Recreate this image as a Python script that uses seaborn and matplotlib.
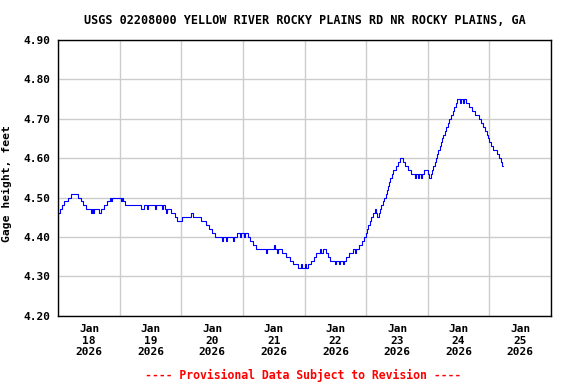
import pandas as pd
import matplotlib
matplotlib.use("Agg")
import matplotlib.pyplot as plt
import matplotlib.dates as mdates
import seaborn as sns

# Gage height readings (feet); each value holds until the next change time
start = "2026-01-18"
change_hours = [
    0.0, 0.5, 1.3, 2.4, 3.6, 4.9, 7.8, 8.8, 9.8, 10.8,
    12.7, 13.1, 13.5, 14.1, 15.9, 16.8, 17.8, 19.0, 20.1, 20.7,
    21.1, 24.4, 24.8, 25.2, 26.0, 32.2, 33.4, 34.6, 34.9, 37.7,
    38.1, 40.4, 40.8, 41.6, 42.0, 42.4, 43.9, 45.3, 46.4, 48.4,
    51.7, 52.3, 55.8, 57.5, 58.7, 59.9, 61.0, 63.8, 64.2, 65.3,
    65.7, 68.1, 68.4, 69.6, 70.8, 71.2, 72.3, 72.7, 73.9, 74.7,
    75.8, 77.0, 80.9, 81.3, 84.0, 84.4, 85.2, 85.6, 87.2, 88.7,
    90.3, 91.4, 93.4, 94.6, 95.0, 96.1, 96.5, 97.3, 98.5, 99.6,
    100.6, 101.8, 102.3, 103.0, 104.3, 105.1, 105.8, 107.8, 108.2, 109.4,
    109.7, 110.9, 111.3, 112.1, 113.2, 114.8, 115.6, 116.0, 117.2, 118.3,
    119.2, 119.8, 120.2, 120.8, 121.4, 122.0, 122.8, 123.4, 123.8, 124.2,
    124.8, 125.4, 125.9, 126.5, 127.1, 127.7, 128.1, 128.6, 129.0, 129.4,
    130.0, 130.6, 131.6, 132.4, 133.3, 134.3, 135.3, 136.3, 137.4, 139.0,
    139.4, 140.2, 140.6, 141.4, 141.7, 142.5, 144.0, 144.4, 145.2, 145.6,
    146.2, 146.8, 147.2, 147.6, 148.1, 148.7, 149.1, 149.5, 150.0, 150.5,
    151.1, 151.7, 152.2, 153.0, 153.7, 154.2, 154.8, 155.5, 156.5, 156.9,
    157.7, 158.1, 158.9, 160.0, 161.2, 162.3, 163.9, 164.7, 165.6, 166.2,
    166.9, 167.4, 168.0, 168.8, 169.5, 170.9, 171.7, 172.4, 173.0, 173.2,
]
stage_ft = [
    4.46, 4.47, 4.48, 4.49, 4.50, 4.51, 4.50, 4.49, 4.48, 4.47,
    4.46, 4.47, 4.46, 4.47, 4.46, 4.47, 4.48, 4.49, 4.50, 4.49,
    4.50, 4.49, 4.50, 4.49, 4.48, 4.47, 4.48, 4.47, 4.48, 4.47,
    4.48, 4.47, 4.48, 4.47, 4.46, 4.47, 4.46, 4.45, 4.44, 4.45,
    4.46, 4.45, 4.44, 4.43, 4.42, 4.41, 4.40, 4.39, 4.40, 4.39,
    4.40, 4.39, 4.40, 4.41, 4.40, 4.41, 4.40, 4.41, 4.40, 4.39,
    4.38, 4.37, 4.36, 4.37, 4.38, 4.37, 4.36, 4.37, 4.36, 4.35,
    4.34, 4.33, 4.32, 4.33, 4.32, 4.33, 4.32, 4.33, 4.34, 4.35,
    4.36, 4.37, 4.36, 4.37, 4.36, 4.35, 4.34, 4.33, 4.34, 4.33,
    4.34, 4.33, 4.34, 4.35, 4.36, 4.37, 4.36, 4.37, 4.38, 4.39,
    4.40, 4.41, 4.42, 4.43, 4.44, 4.45, 4.46, 4.47, 4.46, 4.45,
    4.46, 4.47, 4.48, 4.49, 4.50, 4.51, 4.52, 4.53, 4.54, 4.55,
    4.56, 4.57, 4.58, 4.59, 4.60, 4.59, 4.58, 4.57, 4.56, 4.55,
    4.56, 4.55, 4.56, 4.55, 4.56, 4.57, 4.56, 4.55, 4.56, 4.57,
    4.58, 4.59, 4.60, 4.61, 4.62, 4.63, 4.64, 4.65, 4.66, 4.67,
    4.68, 4.69, 4.70, 4.71, 4.72, 4.73, 4.74, 4.75, 4.74, 4.75,
    4.74, 4.75, 4.74, 4.73, 4.72, 4.71, 4.70, 4.69, 4.68, 4.67,
    4.66, 4.65, 4.64, 4.63, 4.62, 4.61, 4.60, 4.59, 4.58, 4.58,
]
y_ticks = [4.20, 4.30, 4.40, 4.50, 4.60, 4.70, 4.80, 4.90]
title = "USGS 02208000 YELLOW RIVER ROCKY PLAINS RD NR ROCKY PLAINS, GA"
note = "---- Provisional Data Subject to Revision ----"

df = pd.DataFrame({
    "time": pd.Timestamp(start) + pd.to_timedelta(change_hours, unit="h"),
    "stage": stage_ft,
})

sns.set_style("white")
plt.rcParams["font.family"] = ["DejaVu Sans Mono"]
plt.rcParams["font.weight"] = "bold"
plt.rcParams["text.color"] = "black"
plt.rcParams["axes.labelcolor"] = "black"
plt.rcParams["xtick.color"] = "black"
plt.rcParams["ytick.color"] = "black"

fig, ax = plt.subplots(figsize=(5.76, 3.84), dpi=100)
fig.subplots_adjust(left=0.1012, right=0.9566, top=0.8958, bottom=0.1779)

sns.lineplot(data=df, x="time", y="stage", ax=ax, color="#0000ff",
             linewidth=0.8, drawstyle="steps-post", estimator=None)

ax.set_xlim(pd.Timestamp("2026-01-18"), pd.Timestamp("2026-01-26"))
ax.set_ylim(4.20, 4.90)
ax.set_yticks(y_ticks)
ax.yaxis.set_major_formatter("{x:.2f}")

# date labels sit at noon, grid lines at midnight
ax.xaxis.set_major_locator(mdates.HourLocator(byhour=12))
ax.xaxis.set_major_formatter(mdates.DateFormatter("%b\n%d\n%Y"))
ax.xaxis.set_minor_locator(mdates.DayLocator())
ax.grid(which="minor", axis="x", color="#cccccc", linewidth=1)
ax.grid(which="major", axis="y", color="#cccccc", linewidth=1)
ax.grid(which="major", axis="x", visible=False)
ax.tick_params(which="both", length=0, labelsize=8)
ax.tick_params(axis="x", pad=6)
ax.tick_params(axis="y", pad=6)
for lab in ax.get_xticklabels() + ax.get_yticklabels():
    lab.set_fontweight("bold")

for s in ax.spines.values():
    s.set_color("black")
    s.set_linewidth(1)

ax.set_xlabel("")
ax.set_ylabel("Gage height, feet", fontsize=8.2, fontweight="bold")
ax.yaxis.set_label_coords(-0.094, 0.48)

fig.text(0.53, 0.946, title, ha="center", va="center", fontsize=8.5, fontweight="bold")
fig.text(0.527, 0.023, note, ha="center", va="center", fontsize=8.3,
         fontweight="bold", color="red")

fig.savefig("out.png", dpi=100, facecolor="white")
